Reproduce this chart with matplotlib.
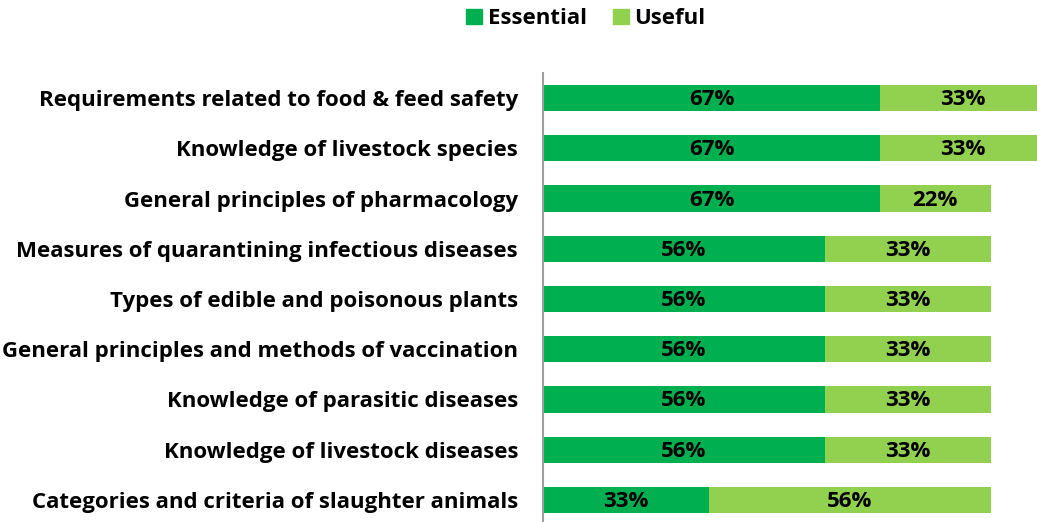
import matplotlib.pyplot as plt
from matplotlib.patches import Patch

categories = [
    "Requirements related to food & feed safety",
    "Knowledge of livestock species",
    "General principles of pharmacology",
    "Measures of quarantining infectious diseases",
    "Types of edible and poisonous plants",
    "General principles and methods of vaccination",
    "Knowledge of parasitic diseases",
    "Knowledge of livestock diseases",
    "Categories and criteria of slaughter animals",
]
essential = [67, 67, 67, 56, 56, 56, 56, 56, 33]
useful = [33, 33, 22, 33, 33, 33, 33, 33, 56]

c_ess = "#00B050"
c_use = "#92D050"

plt.rcParams['font.family'] = ['Open Sans', 'DejaVu Sans']
plt.rcParams['font.weight'] = 'bold'
fs = 16

fig = plt.figure(figsize=(10.37, 5.22), dpi=100)
ax = fig.add_axes([543 / 1037, -3 / 522, 503 / 1037, 452 / 522])

y = list(range(len(categories)))
ax.barh(y, essential, height=0.52, color=c_ess)
ax.barh(y, useful, left=essential, height=0.52, color=c_use)

for i in y:
    ax.text(essential[i] / 2, i + 0.03, f"{essential[i]}%", ha='center', va='center',
            fontsize=fs, fontweight='bold', color='black')
    ax.text(essential[i] + useful[i] / 2, i + 0.03, f"{useful[i]}%", ha='center', va='center',
            fontsize=fs, fontweight='bold', color='black')

ax.set_xlim(0, 100)
ax.set_ylim(len(categories) - 0.5, -0.5)
ax.set_yticks(y)
ax.set_yticklabels(categories, fontsize=fs, fontweight='bold')
ax.tick_params(axis='y', length=0, pad=18)
ax.set_xticks([])
for s in ['top', 'right', 'bottom']:
    ax.spines[s].set_visible(False)
ax.spines['left'].set_color('#a0a0a0')
ax.spines['left'].set_linewidth(1.5)

handles = [Patch(color=c_ess, label='Essential'), Patch(color=c_use, label='Useful')]
fig.legend(handles=handles, loc='center', bbox_to_anchor=(0.565, 0.964), ncol=2,
           frameon=False, handlelength=0.7, handleheight=0.7,
           handletextpad=0.25, columnspacing=1.2, prop={'weight': 'bold', 'size': fs})

fig.savefig('out.png', dpi=100)
